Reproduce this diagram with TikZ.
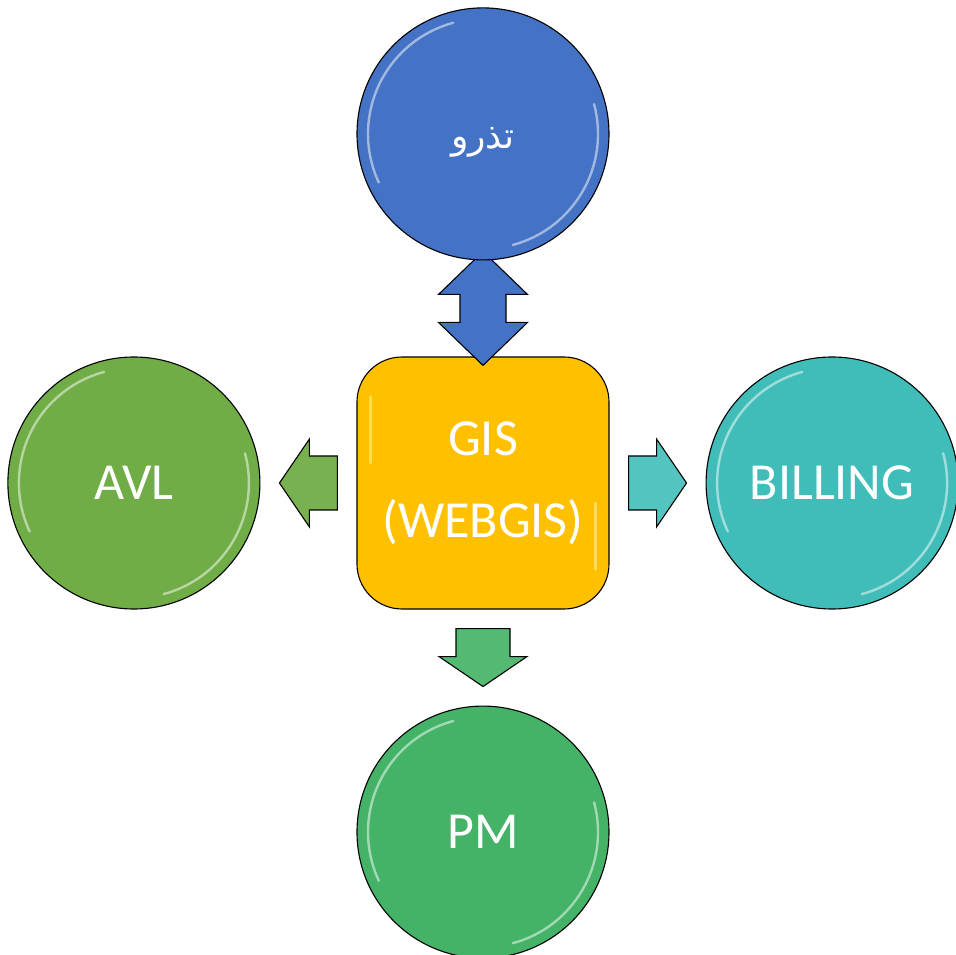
\documentclass[tikz,border=0pt]{standalone}
\usepackage{fontspec}
\setmainfont{Carlito}
\newfontfamily\arabicfont[Script=Arabic]{DejaVu Sans}
\TeXXeTstate=1
\usetikzlibrary{calc,positioning}
\definecolor{tadroblue}{HTML}{4472C4}
\definecolor{avlgreen}{HTML}{70AD47}
\definecolor{billteal}{HTML}{41BDB9}
\definecolor{pmgreen}{HTML}{44B367}
\definecolor{gisyellow}{HTML}{FFC000}
\pgfdeclarelayer{front}
\pgfsetlayers{main,front}

\begin{document}
\begin{tikzpicture}[x=1pt,y=1pt,
  bubble/.style={circle,draw=black,line width=1.1pt,minimum size=252pt,inner sep=0pt,
    text=white,font=\fontsize{52}{62}\selectfont},
  hub/.style={rectangle,rounded corners=45pt,draw=black,line width=1.1pt,minimum size=252pt,
    inner sep=0pt,fill=gisyellow,text=white,align=center,font=\fontsize{52}{82}\selectfont},
  blockarrow/.style={draw=black,line width=1.1pt,line join=miter},
  gloss/.style={draw=white,line width=2.4pt,opacity=.5,line cap=round}]
 \useasboundingbox (-483,-472) rectangle (472,483);
 % hub and the three side bubbles
 \node[hub] (gis) at (0,0) {GIS\\(WEBGIS)};
 \node[bubble,fill=avlgreen,left=96pt of gis] (avl) {AVL};
 \node[bubble,fill=billteal,right=96pt of gis] (billing) {BILLING};
 \node[bubble,fill=pmgreen,below=96pt of gis] (pm) {PM};
 \begin{pgfonlayer}{front}
  \node[bubble,fill=tadroblue,above=96pt of gis] (tadro)
    {\raisebox{-8pt}[\height][\depth]{\arabicfont\fontsize{36}{44}\selectfont\beginR تذرو\endR}};
  \draw[gloss] ($(tadro.center)+(105:115)$) arc[start angle=105,end angle=205,radius=115];
  \draw[gloss] ($(tadro.center)+(-75:115)$) arc[start angle=-75,end angle=15,radius=115];
 \end{pgfonlayer}
 \foreach \n in {avl,billing,pm}{
  \draw[gloss] ($(\n.center)+(105:115)$) arc[start angle=105,end angle=205,radius=115];
  \draw[gloss] ($(\n.center)+(-75:115)$) arc[start angle=-75,end angle=15,radius=115];
 }
 \draw[gloss,draw=yellow!40] ($(gis.north west)+(14,-40)$) -- ($(gis.west)+(14,20)$);
 \draw[gloss,draw=yellow!40] ($(gis.south east)+(-14,40)$) -- ($(gis.east)+(-14,-20)$);
 % single block arrows
 \foreach \dest/\ang/\col in {avl/180/avlgreen!95!white,billing/0/billteal!90!white,pm/270/pmgreen!92!white}{
  \begin{scope}[shift={($(gis)!.5!(\dest)$)},rotate=\ang]
   \draw[blockarrow,fill=\col] (-29,-27) -- (-1,-27) -- (-1,-44) -- (29,0)
     -- (-1,44) -- (-1,27) -- (-29,27) -- cycle;
  \end{scope}
 }
 % double block arrow to the top bubble
 \begin{scope}[shift={($(gis)!.5!(tadro)$)}]
  \draw[blockarrow,fill=tadroblue] (-23,-14) -- (-44.5,-14) -- (0,-57) -- (44.5,-14)
    -- (23,-14) -- (23,14) -- (44.5,14) -- (0,57) -- (-44.5,14) -- (-23,14) -- cycle;
 \end{scope}
\end{tikzpicture}
\end{document}
